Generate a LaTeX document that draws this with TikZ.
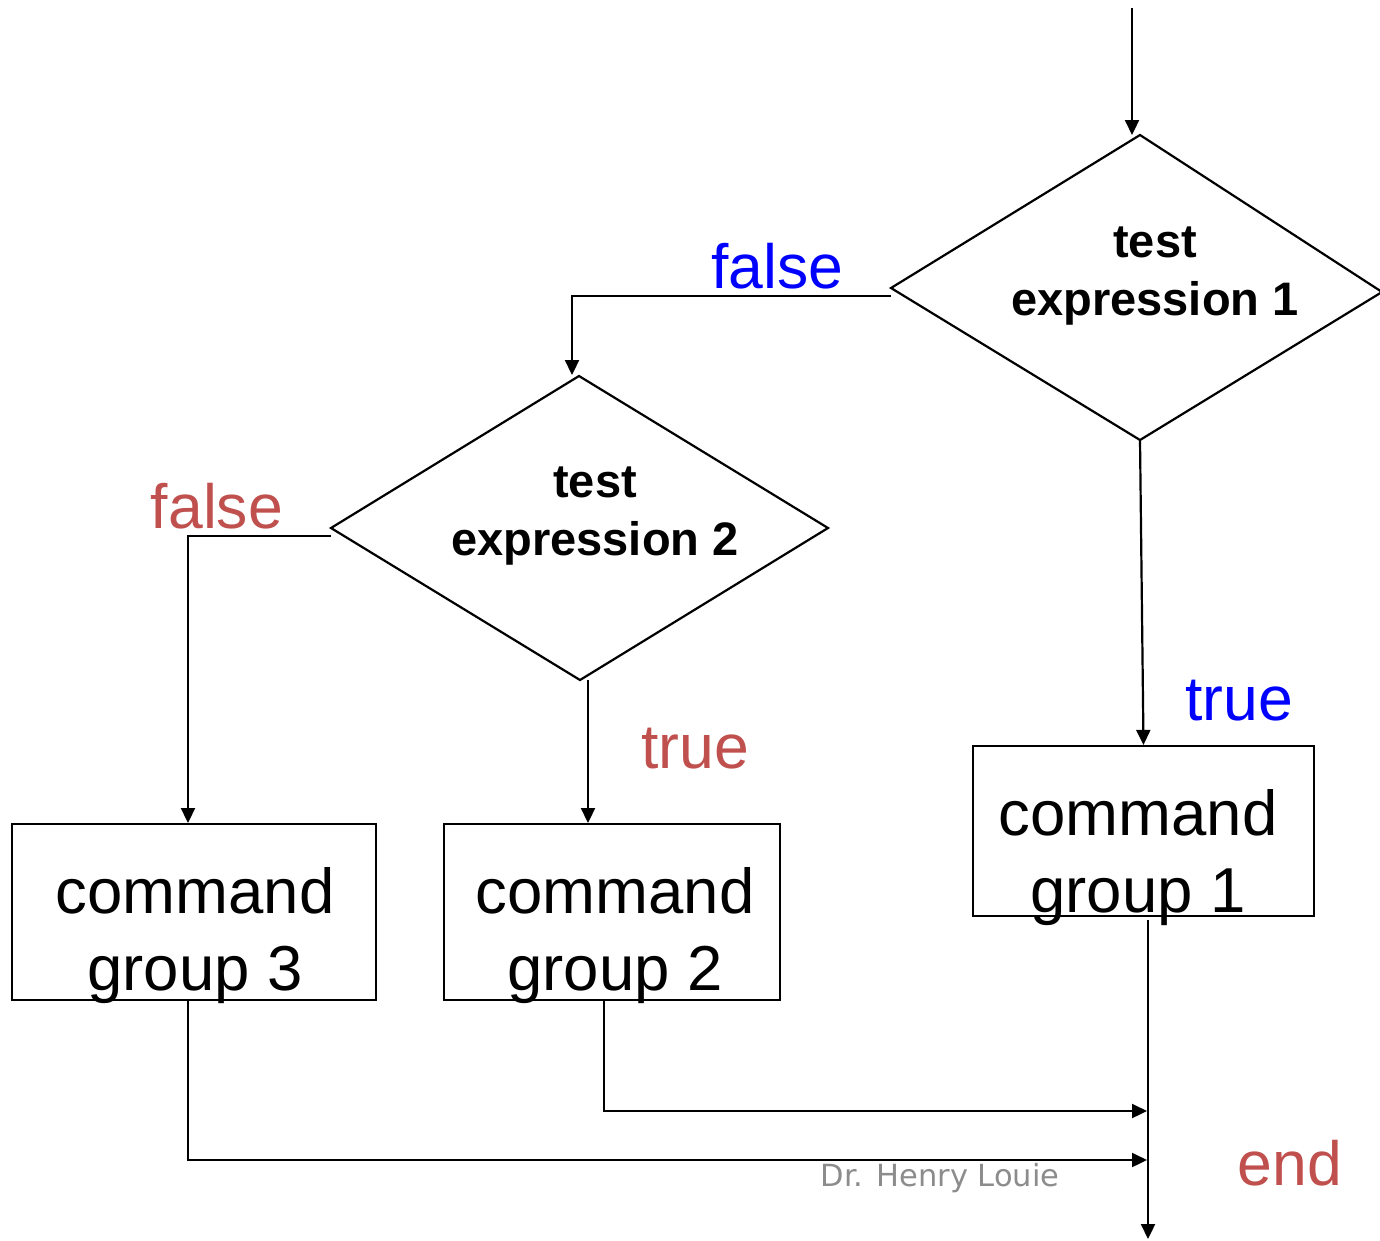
\documentclass[tikz,border=0pt]{standalone}
\usepackage{fontspec}
\setmainfont{Liberation Sans}
\newfontfamily\notefont{DejaVu Sans}
\usetikzlibrary{arrows.meta}
\definecolor{flowblue}{HTML}{0000FF}
\definecolor{flowred}{HTML}{C0504D}
\definecolor{notegray}{HTML}{8C8C8C}
\begin{document}
\begin{tikzpicture}[x=1pt,y=-1pt,
  line/.style={line width=2.2pt,black},
  flow/.style={line,-{Triangle[length=15pt,width=14pt]}},
  shapeline/.style={line width=2.2pt,black},
  cmdbox/.style={draw,line width=2.2pt,rectangle,inner sep=0pt},
  cmdtext/.style={anchor=base,font=\fontsize{63.5}{76}\selectfont,inner sep=0pt},
  testtext/.style={anchor=base,font=\fontsize{47}{58}\selectfont\bfseries,inner sep=0pt},
  lblblue/.style={anchor=base,font=\fontsize{62.5}{74}\selectfont,text=flowblue,inner sep=0pt},
  lblred/.style={anchor=base,font=\fontsize{62.5}{74}\selectfont,text=flowred,inner sep=0pt}]
\useasboundingbox (0,0) rectangle (1380,1240);

% decision 1
\coordinate (d1t) at (1140,135);
\coordinate (d1l) at (891,288);
\coordinate (d1r) at (1382,292);
\coordinate (d1b) at (1140,440);
\draw[shapeline,line join=miter] (d1t) -- (d1r) -- (d1b) -- (d1l) -- cycle;
\node[testtext] (t1a) at (1155,257) {test};
\node[testtext] (t1b) at (1155,315) {expression 1};

% decision 2
\coordinate (d2t) at (579,376);
\coordinate (d2l) at (331,528);
\coordinate (d2r) at (828,528);
\coordinate (d2b) at (580,680);
\draw[shapeline,line join=miter] (d2t) -- (d2r) -- (d2b) -- (d2l) -- cycle;
\node[testtext] (t2a) at (595,497) {test};
\node[testtext] (t2b) at (595,555) {expression 2};

% command boxes
\node[cmdbox,minimum width=341pt,minimum height=170pt] (box1) at (1143.5,831) {};
\node[cmdbox,minimum width=336pt,minimum height=176pt] (box2) at (612,912) {};
\node[cmdbox,minimum width=364pt,minimum height=176pt] (box3) at (194,912) {};
\node[cmdtext] (c1a) at (1138,835) {command};
\node[cmdtext] (c1b) at (1138,912) {group 1};
\node[cmdtext] (c2a) at (615,913) {command};
\node[cmdtext] (c2b) at (615,990) {group 2};
\node[cmdtext] (c3a) at (195,913) {command};
\node[cmdtext] (c3b) at (195,990) {group 3};

% branch labels
\node[lblblue] (f1) at (777,288) {false};
\node[lblblue] (tr1) at (1239,720) {true};
\node[lblred] (f2) at (217,528) {false};
\node[lblred] (tr2) at (695,768) {true};
\node[lblred] (endl) at (1290,1185) {end};
\node[anchor=base,inner sep=0pt,font=\notefont\fontsize{30.5}{36}\selectfont,text=notegray] (note) at (940,1186) {Dr. Henry Louie};

% connectors
\coordinate (entry) at (1132,8);
\draw[flow] (entry) -- (entry |- d1t);
\draw[flow] (891,296) -- (572,296) -- (572,375);
\draw[flow] (d1b) -- (box1.north);
\draw[flow] (331,536) -- (188,536) -- (188,823);
\draw[flow] (588,680) -- (588,823);
\coordinate (exit) at (1148,1239);
\draw[flow] (1148,920) -- (exit);
\draw[flow] (box2.south -| 604,0) -- (604,1111) -- (1147,1111);
\draw[flow] (box3.south -| 188,0) -- (188,1160) -- (1147,1160);
\end{tikzpicture}
\end{document}
